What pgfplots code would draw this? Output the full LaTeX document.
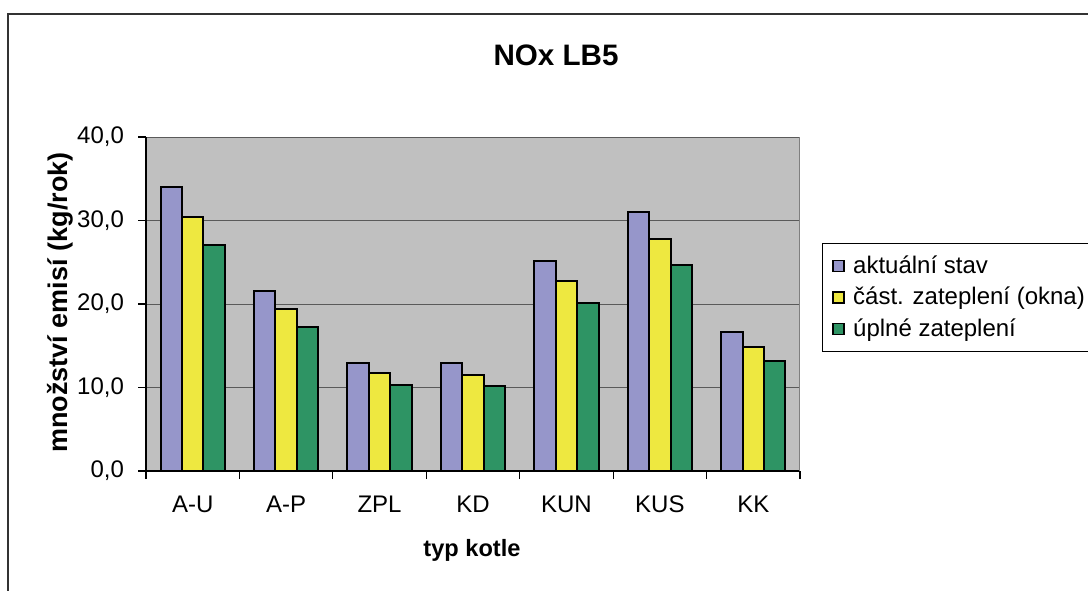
\documentclass[border=0pt]{standalone}
\usepackage{fontspec}
\setmainfont{Liberation Sans}
\usepackage{pgfplots}
\pgfplotsset{compat=1.18}
\definecolor{cA}{RGB}{150,150,202}
\definecolor{cB}{RGB}{238,232,64}
\definecolor{cC}{RGB}{46,148,100}
\definecolor{bg}{RGB}{192,192,192}
\definecolor{gridc}{RGB}{90,90,90}
\pgfplotsset{mylegend/.style={legend image code/.code={\draw[##1, line width=0.7pt] (0pt,-2.75pt) rectangle (5.5pt,2.75pt); \path (7.5pt,0pt);}}}
\begin{document}
\begin{tikzpicture}
\useasboundingbox (0,0) rectangle (544pt,295pt);
\draw[line width=0.6pt, black!80] (4pt,-2pt) -- (4pt,288pt) -- (550pt,288pt);
\begin{axis}[
  at={(73pt,59.5pt)}, anchor=south west,
  scale only axis, width=327pt, height=167pt,
  xmin=-0.5, xmax=6.5, ymin=0, ymax=40,
  ybar=0pt, bar width=10.7pt,
  axis background/.style={fill=bg},
  axis x line*=bottom, axis y line*=left,
  axis line style={black, line width=0.6pt},
  tick align=outside, major tick length=4pt,
  tick style={black, line width=0.6pt},
  xtick={-0.5,0.5,...,6.5}, xticklabels={},
  extra x ticks={0,1,2,3,4,5,6},
  extra x tick labels={A-U,A-P,ZPL,KD,KUN,KUS,KK},
  extra x tick style={major tick length=0pt, xticklabel style={yshift=-9pt}},
  ytick={0,10,20,30,40},
  ymajorgrids, grid style={gridc, line width=0.5pt},
  tick label style={font=\fontsize{12}{14}\selectfont},
  yticklabel style={xshift=-3.5pt, /pgf/number format/.cd, fixed, fixed zerofill, precision=1, use comma},
  /pgf/number format/assume math mode=true,
  every axis plot/.append style={draw=black, line width=1pt},
  legend style={at={(1.0336,0.6826)}, anchor=north west, draw=black, line width=0.5pt,
    font=\fontsize{12}{14}\selectfont, row sep=1.5pt, inner xsep=5pt, inner ysep=4pt},
  legend cell align=left,
]
\addplot[fill=cA, mylegend] coordinates {(0,34.0) (1,21.6) (2,12.9) (3,12.9) (4,25.2) (5,31.0) (6,16.6)};
\addplot[fill=cB, mylegend] coordinates {(0,30.4) (1,19.4) (2,11.7) (3,11.5) (4,22.8) (5,27.8) (6,14.8)};
\addplot[fill=cC, mylegend] coordinates {(0,27.1) (1,17.2) (2,10.3) (3,10.2) (4,20.1) (5,24.7) (6,13.2)};
\legend{aktuální stav, část. zateplení (okna), úplné zateplení}
\draw[gray, line width=0.5pt] (rel axis cs:1,0) -- (rel axis cs:1,1);
\end{axis}
\node[anchor=base, font=\bfseries\fontsize{14.8}{17}\selectfont] at (278pt,262pt) {NOx LB5};
\node[anchor=base, font=\bfseries\fontsize{11.8}{14}\selectfont] at (236pt,17pt) {typ kotle};
\node[anchor=base, rotate=90, font=\bfseries\fontsize{13.5}{15}\selectfont] at (33.5pt,143.75pt) {množství emisí (kg/rok)};
\end{tikzpicture}
\end{document}
